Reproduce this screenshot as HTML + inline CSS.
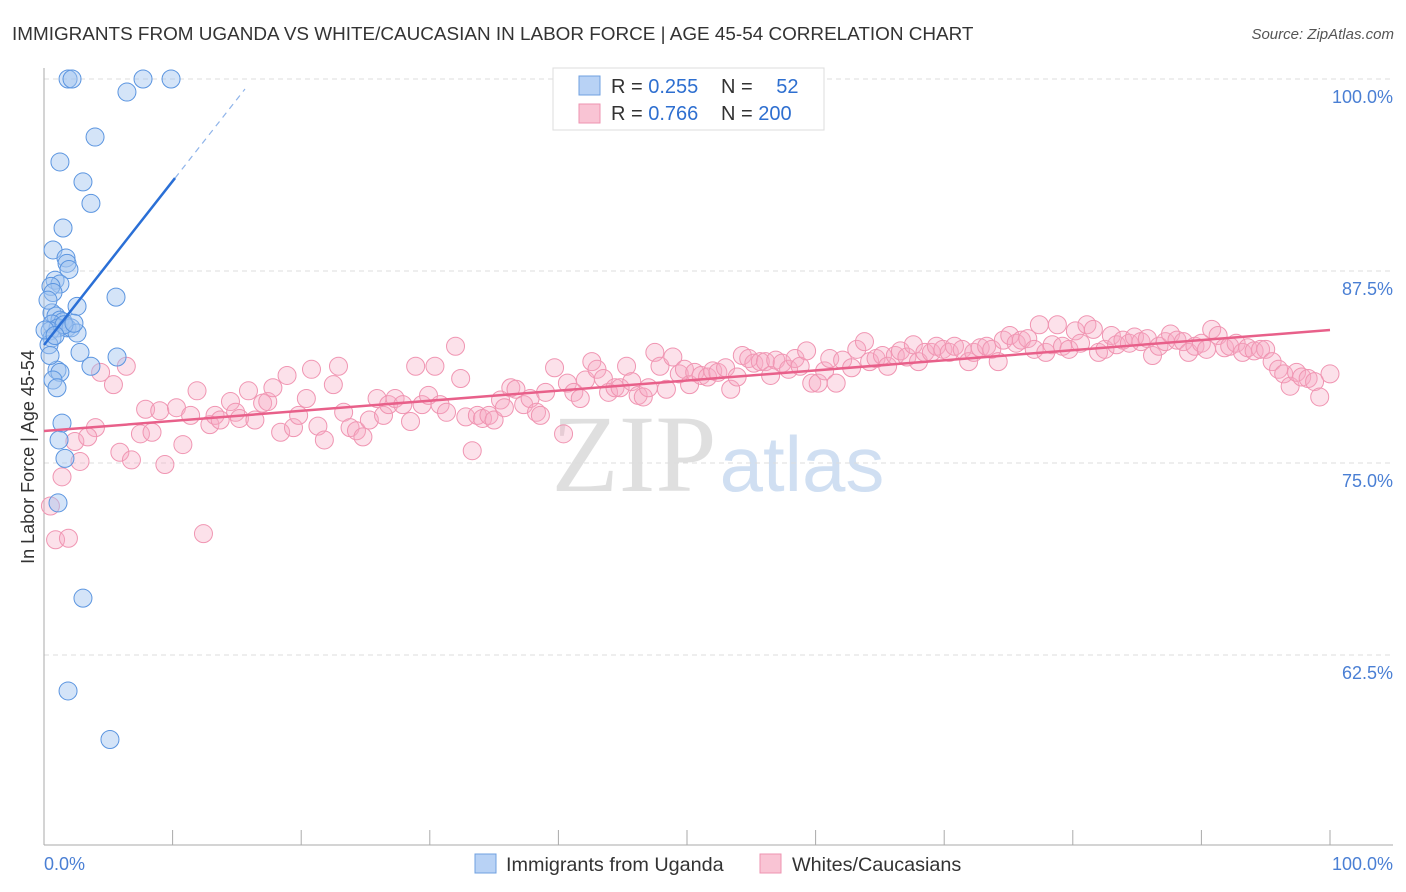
<!DOCTYPE html>
<html><head><meta charset="utf-8">
<style>
body{margin:0;background:#fff;font-family:"Liberation Sans",sans-serif;}
#wrap{position:relative;width:1406px;height:892px;overflow:hidden;}
</style></head>
<body>
<div id="wrap">
<svg id="chart" width="1406" height="892" xmlns="http://www.w3.org/2000/svg">
  <text x="12" y="40" font-size="18.9" fill="#333">IMMIGRANTS FROM UGANDA VS WHITE/CAUCASIAN IN LABOR FORCE | AGE 45-54 CORRELATION CHART</text>
  <text x="1394" y="39" font-size="15" fill="#555" font-style="italic" text-anchor="end">Source: ZipAtlas.com</text>
  <text transform="translate(34,457) rotate(-90)" font-size="18" fill="#333" text-anchor="middle">In Labor Force | Age 45-54</text>
  <g>
    <text x="634" y="491" font-size="110" fill="#d8d8d8" font-family="Liberation Serif,serif" text-anchor="middle" opacity="0.8">ZIP</text>
    <text x="802" y="491" font-size="78" fill="#c5d8f0" text-anchor="middle" opacity="0.8">atlas</text>
  </g>
  <g id="grid"></g>
  <g id="pink"></g>
  <g id="blue"></g>
  <g id="lines"></g>
  <g>
    <rect x="553" y="68" width="271" height="62" fill="#fff" stroke="#ddd"/>
    <rect x="579" y="76" width="21" height="19" fill="#b8d2f5" stroke="#6fa0e0"/>
    <rect x="579" y="104" width="21" height="19" fill="#f9c4d4" stroke="#ee93b0"/>
    <text x="611" y="93" font-size="20" fill="#333">R = <tspan fill="#2e6fd0">0.255</tspan></text>
    <text x="721" y="93" font-size="20" fill="#333">N = <tspan fill="#2e6fd0" dx="18">52</tspan></text>
    <text x="611" y="120" font-size="20" fill="#333">R = <tspan fill="#2e6fd0">0.766</tspan></text>
    <text x="721" y="120" font-size="20" fill="#333">N = <tspan fill="#2e6fd0">200</tspan></text>
  </g>
  <text x="44" y="870" font-size="18" fill="#4a7fd4">0.0%</text>
  <text x="1393" y="870" font-size="18" fill="#4a7fd4" text-anchor="end">100.0%</text>
  <g>
    <rect x="475" y="854" width="21" height="19" fill="#b8d2f5" stroke="#6fa0e0"/>
    <text x="506" y="871" font-size="19.8" fill="#333">Immigrants from Uganda</text>
    <rect x="760" y="854" width="21" height="19" fill="#f9c4d4" stroke="#ee93b0"/>
    <text x="792" y="871" font-size="19.8" fill="#333">Whites/Caucasians</text>
  </g>
</svg>
</div>
<script>
const yTicks=[100,87.5,75,62.5];
const yTickLabels=["100.0%","87.5%","75.0%","62.5%"];
const xTicks=[10,20,30,40,50,60,70,80,90,100];
const blueX=[1.87,2.18,7.70,9.88,6.45,3.97,1.24,3.03,3.65,1.48,0.70,1.71,1.79,1.94,0.86,1.24,0.54,0.70,5.6,2.57,0.62,0.93,1.24,1.48,0.62,1.09,1.79,0.47,2.1,2.57,0.62,0.39,2.8,5.68,3.65,1.01,1.24,0.70,1.01,1.40,1.17,1.63,1.09,3.03,1.87,5.13,0.47,0.08,0.31,1.56,0.86,2.33];
const blueY=[100,100,100,100,99.15,96.22,94.6,93.3,91.9,90.3,88.87,88.35,88.0,87.6,86.9,86.65,86.5,86.1,85.8,85.2,84.77,84.57,84.3,84.2,84.05,83.8,83.8,83.6,83.8,83.46,83.14,82.7,82.2,81.9,81.3,81.05,80.9,80.4,79.9,77.6,76.5,75.3,72.4,66.2,60.16,57.0,82.0,83.66,85.6,84.0,83.3,84.1];
const pinkX=[0.5,0.9,1.9,1.4,2.4,2.8,4.0,3.4,4.4,5.4,6.4,5.9,6.8,7.5,8.4,7.9,9.0,9.4,10.3,10.8,11.4,11.9,12.4,12.9,13.3,13.7,14.5,14.9,15.2,15.9,16.4,17.0,17.4,17.8,18.4,18.9,19.4,19.8,20.4,20.8,21.3,21.8,22.5,22.9,23.3,23.8,24.3,24.8,25.3,25.9,26.4,26.8,27.3,27.9,28.5,28.9,29.4,29.9,30.4,30.8,31.3,32.0,32.4,32.8,33.3,33.7,34.1,34.6,35.0,35.5,35.8,36.3,36.7,37.3,37.8,38.3,38.6,39.0,39.7,40.4,40.7,41.2,41.7,42.1,42.6,43.0,43.5,43.9,44.4,44.8,45.3,45.7,46.2,46.6,47.0,47.5,47.9,48.4,48.9,49.4,49.8,50.2,50.6,51.1,51.6,52.0,52.4,53.0,53.4,53.9,54.3,54.8,55.2,55.7,56.1,56.5,56.9,57.4,57.9,58.4,58.8,59.3,59.7,60.2,60.7,61.1,61.6,62.1,62.8,63.2,63.8,64.2,64.7,65.2,65.6,66.2,66.6,67.1,67.6,68.0,68.5,69.0,69.4,69.9,70.4,70.8,71.4,71.9,72.3,72.8,73.3,73.7,74.2,74.6,75.1,75.6,76.0,76.5,77.0,77.4,77.9,78.4,78.8,79.2,79.7,80.2,80.6,81.1,81.6,82.0,82.5,83.0,83.4,83.9,84.4,84.8,85.3,85.8,86.2,86.7,87.2,87.6,88.1,88.6,89.0,89.5,90.0,90.4,90.8,91.3,91.8,92.2,92.7,93.2,93.6,94.1,94.6,95.0,95.5,96.0,96.4,96.9,97.4,97.8,98.3,98.8,99.2,100.0];
const pinkY=[72.2,70.0,70.1,74.1,76.4,75.1,77.3,76.7,80.9,80.1,81.3,75.7,75.2,76.9,77.0,78.5,78.4,74.9,78.6,76.2,78.1,79.7,70.4,77.5,78.1,77.8,79.0,78.3,77.9,79.7,77.8,78.9,79.0,79.9,77.0,80.7,77.3,78.1,79.2,81.1,77.4,76.5,80.1,81.3,78.3,77.3,77.1,76.7,77.8,79.2,78.1,78.8,79.2,78.8,77.7,81.3,78.8,79.4,81.3,78.8,78.3,82.6,80.5,78.0,75.8,78.1,77.9,78.1,77.8,79.1,78.6,79.9,79.8,78.8,79.2,78.3,78.1,79.6,81.2,76.9,80.2,79.6,79.2,80.4,81.6,81.1,80.5,79.6,79.9,79.9,81.3,80.3,79.4,79.3,79.9,82.2,81.3,79.8,81.9,80.8,81.1,80.1,80.9,80.7,80.6,81.0,80.9,81.2,79.8,80.6,82.0,81.8,81.5,81.6,81.6,80.7,81.7,81.5,81.1,81.8,81.3,82.3,80.2,80.2,81.0,81.8,80.2,81.7,81.2,82.4,82.9,81.6,81.8,82.0,81.3,82.0,82.3,81.9,82.7,81.6,82.2,82.2,82.6,82.4,82.2,82.6,82.4,81.6,82.2,82.5,82.6,82.4,81.6,83.0,83.3,82.8,83.0,83.1,82.4,84.0,82.2,82.7,84.0,82.6,82.4,83.6,82.8,84.0,83.7,82.2,82.4,83.3,82.7,83.0,82.8,83.2,82.9,83.1,82.0,82.6,82.9,83.4,83.0,82.9,82.2,82.6,82.8,82.4,83.7,83.3,82.5,82.6,82.8,82.2,82.5,82.3,82.4,82.4,81.6,81.1,80.8,80.0,80.9,80.6,80.5,80.3,79.3,80.8];
const blueTrend=[[0,82.68],[10.19,93.55],[15.63,99.35]];
const pinkTrend=[[0,77.08],[100,83.66]];

const NS="http://www.w3.org/2000/svg";
const X0=44,X1=1330,Y0=79,PX_PER=15.36;
function sx(v){return X0+(X1-X0)*v/100;}
function sy(v){return Y0+(100-v)*PX_PER;}
function mk(tag,attrs,parent){const e=document.createElementNS(NS,tag);for(const k in attrs)e.setAttribute(k,attrs[k]);parent.appendChild(e);return e;}

const grid=document.getElementById('grid');
yTicks.forEach((t,i)=>{
  const l=mk('line',{x1:44,x2:1393,y1:sy(t),y2:sy(t),stroke:'#ddd','stroke-dasharray':'5,4'},grid);
  
  
  const tx=mk('text',{x:1393,y:sy(t)+24,'font-size':18,fill:'#4a7fd4','text-anchor':'end'},grid);
  tx.textContent=yTickLabels[i];
  
  
});
const ax=mk('line',{x1:44,x2:44,y1:68,y2:845,stroke:'#aaa'},grid);


const bx=mk('line',{x1:44,x2:1393,y1:845,y2:845,stroke:'#aaa'},grid);


xTicks.forEach(t=>{
  const l=mk('line',{x1:sx(t),x2:sx(t),y1:830,y2:845,stroke:'#aaa'},grid);
  
  
});

const pg=document.getElementById('pink');
pinkX.forEach((v,i)=>{
  const c=mk('circle',{cx:sx(v),cy:sy(pinkY[i]),r:9,fill:'rgba(246,170,196,0.35)',stroke:'#f095b2','stroke-width':1},pg);
  
  
});
const bg=document.getElementById('blue');
blueX.forEach((v,i)=>{
  const c=mk('circle',{cx:sx(v),cy:sy(blueY[i]),r:9,fill:'rgba(160,196,240,0.45)',stroke:'#5b95e0','stroke-width':1},bg);
  
  
});

const lg=document.getElementById('lines');
const pl=mk('line',{x1:sx(pinkTrend[0][0]),y1:sy(pinkTrend[0][1]),x2:sx(pinkTrend[1][0]),y2:sy(pinkTrend[1][1]),stroke:'#e8608a','stroke-width':2.5},lg);


const bl=mk('line',{x1:sx(blueTrend[0][0]),y1:sy(blueTrend[0][1]),x2:sx(blueTrend[1][0]),y2:sy(blueTrend[1][1]),stroke:'#2a6fd6','stroke-width':2.5},lg);


const bd=mk('line',{x1:sx(blueTrend[1][0]),y1:sy(blueTrend[1][1]),x2:sx(blueTrend[2][0]),y2:sy(blueTrend[2][1]),stroke:'#8fb4ea','stroke-width':1.2,'stroke-dasharray':'6,5'},lg);


</script>
</body></html>
